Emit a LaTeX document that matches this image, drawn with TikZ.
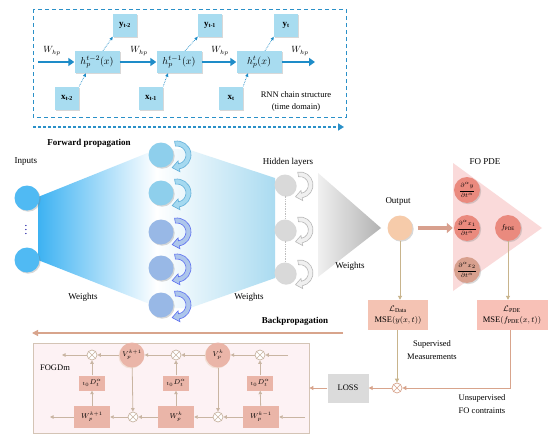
\documentclass[tikz,border=0pt]{standalone}
\usepackage{fontspec}
\setmainfont{Liberation Serif}
\usepackage{amsmath}
\usetikzlibrary{arrows.meta,shadows,calc}
\definecolor{rnnbox}{HTML}{A8DCF0}
\definecolor{rnnarrow}{HTML}{1E8CC8}
\definecolor{rnndash}{HTML}{2A90C8}
\definecolor{inblue}{HTML}{3DB2F2}
\definecolor{hidblue}{HTML}{8ECFEC}
\definecolor{hidlav}{HTML}{98B8E6}
\definecolor{peach}{HTML}{F6CBAA}
\definecolor{salmon}{HTML}{EA8A7E}
\definecolor{salmonb}{HTML}{D8A08E}
\definecolor{pinktri}{HTML}{FADADA}
\definecolor{tanarrow}{HTML}{C8B48C}
\definecolor{lossbox}{HTML}{F4C3B3}
\definecolor{fogbg}{HTML}{FDF2F4}
\definecolor{fogline}{HTML}{C9B5A2}
\definecolor{fogbox}{HTML}{EAB5A8}
\definecolor{backarrow}{HTML}{D8A48C}
\tikzset{
  recarrow/.pic={
    \begin{scope}[yscale=-1]
    \path[pic actions] (100:14) arc[start angle=100,end angle=-80,radius=14] -- (-80:17) -- (-111:13.5) -- (-80:6) -- (-80:9) arc[start angle=-80,end angle=100,radius=9] -- cycle;
    \end{scope}
  },
  shad/.style={drop shadow={opacity=0.3,shadow xshift=1.2pt,shadow yshift=-1.2pt}},
  hbox/.style={fill=rnnbox,shad,inner sep=0pt,minimum width=45pt,minimum height=22pt,font=\fontsize{10}{12}\selectfont},
  sbox/.style={fill=rnnbox,shad,inner sep=0pt,minimum width=24pt,minimum height=23pt,font=\fontsize{9}{10}\selectfont},
  warrow/.style={rnnarrow,line width=2.6pt,-{Triangle[length=6pt,width=8pt]}},
  dotarrow/.style={rnnarrow,densely dotted,line width=0.7pt,-{Triangle[length=3.5pt,width=3pt]}},
  lbl/.style={inner sep=1pt,font=\fontsize{9}{10}\selectfont},
  hcirc/.style={circle,shad,inner sep=0pt,minimum size=25pt},
  gcirc/.style={circle,shad,fill=gray!30,inner sep=0pt,minimum size=21pt},
  dcirc/.style={circle,shad,inner sep=0pt,minimum size=26pt,font=\fontsize{6}{7}\selectfont},
  tarrow/.style={tanarrow,line width=0.9pt,-{Triangle[length=4pt,width=4pt]}},
  larrow/.style={backarrow,line width=0.9pt,-{Triangle[length=4pt,width=4pt]}},
  farrow/.style={fogline,line width=0.8pt,-{Triangle[length=3.5pt,width=3.5pt]}},
  otimesnode/.style={circle,draw=#1,fill=white,line width=0.7pt,minimum size=10pt,inner sep=0pt,
    path picture={\draw[#1,line width=0.7pt] (path picture bounding box.north west) -- (path picture bounding box.south east) (path picture bounding box.north east) -- (path picture bounding box.south west);}},
  lbox/.style={inner sep=1pt,align=center,minimum height=30pt,font=\fontsize{8.5}{11}\selectfont},
  dbox/.style={fill=fogbox,inner sep=0pt,minimum width=26pt,minimum height=15pt,font=\fontsize{7}{8}\selectfont},
  wbox/.style={fill=fogbox,inner sep=0pt,minimum width=36pt,minimum height=22pt,font=\fontsize{7}{8}\selectfont},
  vcirc/.style={circle,fill=fogbox,drop shadow={opacity=0.35,shadow xshift=-1pt,shadow yshift=-1pt,fill=brown!50},inner sep=0pt,minimum size=25pt,font=\fontsize{7}{8}\selectfont}
}
\begin{document}
\begin{tikzpicture}[x=1pt,y=-1pt]
\useasboundingbox (0,0) rectangle (550,439);
\fill[white] (0,0) rectangle (550,439);
% ---------------- RNN chain ----------------
\draw[rnndash,line width=0.8pt,dash pattern=on 4pt off 3pt] (33,9) rectangle (346,117);
\node[hbox] (h1) at (97,62) {$h_p^{t-2}(x)$};
\node[hbox] (h2) at (179,62) {$h_p^{t-1}(x)$};
\node[hbox] (h3) at (259,62) {$h_p^{t}(x)$};
\node[sbox] (y1) at (125,25) {\textbf{y}\textsubscript{\textbf{t-2}}};
\node[sbox] (y2) at (210,25) {\textbf{y}\textsubscript{\textbf{t-1}}};
\node[sbox] (y3) at (286,25) {\textbf{y}\textsubscript{\textbf{t}}};
\node[sbox] (x1) at (67,98) {\textbf{x}\textsubscript{\textbf{t-2}}};
\node[sbox] (x2) at (151,98) {\textbf{x}\textsubscript{\textbf{t-1}}};
\node[sbox] (x3) at (231,98) {\textbf{x}\textsubscript{\textbf{t}}};
\coordinate (ws) at (38,62);
\coordinate (we) at (315,62);
\draw[warrow] (ws) -- (h1.west);
\draw[warrow] (h1.east) -- (h2.west);
\draw[warrow] (h2.east) -- (h3.west);
\draw[warrow] (h3.east) -- (we);
\node[lbl] (wl1) at (52,51) {$W_{hp}$};
\node[lbl] (wl2) at (139,51) {$W_{hp}$};
\node[lbl] (wl3) at (220,51) {$W_{hp}$};
\node[lbl] (wl4) at (300,51) {$W_{hp}$};
\foreach \i in {1,2,3}{
  \draw[dotarrow] (x\i.north east) -- ([xshift=-11pt]h\i.south);
  \draw[dotarrow] ([xshift=6pt]h\i.north) -- (y\i.south west);
}
\node[align=center,inner sep=0pt,font=\fontsize{8.5}{12}\selectfont] (rnnlbl) at (296,101) {RNN chain structure\\(time domain)};
\coordinate (fp1) at (33,127);
\coordinate (fp2) at (344,127);
\draw[rnndash,line width=1.6pt,dash pattern=on 3pt off 2pt,-{Triangle[length=6pt,width=7pt]}] (fp1) -- (fp2);
\node[font=\bfseries\fontsize{9}{10}\selectfont,inner sep=0pt] (fplbl) at (89,143) {Forward propagation};
% ---------------- network ----------------
\shade[left color=inblue,right color=hidblue!75,middle color=white] (38,197) -- (160,148) -- (190,150) -- (275,178) -- (275,278) -- (190,308) -- (160,308) -- (38,260) -- cycle;
\node[lbl] (inlbl) at (26,162) {Inputs};
\node[hcirc,fill=inblue!90] (in1) at (27,198) {};
\node[hcirc,fill=inblue!90] (in2) at (27,260) {};
\node[text=blue!60!black,font=\fontsize{11}{11}\selectfont,inner sep=0pt] (indots) at (26,227) {$\vdots$};
\foreach \y/\c/\d in {155/hidblue/rnnarrow!70, 193/hidblue/rnnarrow!70, 232/hidlav/hidlav!60!blue, 268/hidlav/hidlav!60!blue, 305/hidlav/hidlav!60!blue}{
  \pic[fill=\c!80,draw=\d,line width=0.6pt] at (177,\y) {recarrow};
}
\node[hcirc,fill=hidblue] (c1) at (161,155) {};
\node[hcirc,fill=hidblue] (c2) at (161,193) {};
\node[hcirc,fill=hidlav] (c3) at (161,232) {};
\node[hcirc,fill=hidlav] (c4) at (161,268) {};
\node[hcirc,fill=hidlav] (c5) at (161,305) {};
\node[lbl] (wt1) at (83,297) {Weights};
\node[lbl] (wt2) at (249,297) {Weights};
\node[lbl] (hidlbl) at (288,162) {Hidden layers};
% gray hidden layers
\shade[left color=gray!12,right color=gray!60] (318,173) -- (381,228) -- (318,277) -- cycle;
\foreach \y in {185,230,273}{
  \pic[fill=gray!12,draw=gray!55,line width=0.6pt,scale=0.93] at (300,\y) {recarrow};
}
\node[gcirc] (g1) at (285,185) {};
\node[gcirc] (g2) at (285,230) {};
\node[gcirc] (g3) at (285,273) {};
\draw[gray!50,densely dotted,line width=0.7pt] (g1.south) -- (g2.north);
\draw[gray!50,densely dotted,line width=0.7pt] (g2.south) -- (g3.north);
\node[lbl] (wt3) at (350,266) {Weights};
% output
\node[lbl] (outlbl) at (398,201) {Output};
\node[hcirc,fill=peach] (out) at (400,228) {};
% FO PDE
\fill[pinktri] (453,163) -- (542,228) -- (453,291) -- cycle;
\node[lbl] (folbl) at (485,162) {FO PDE};
\node[dcirc,fill=salmon] (d1) at (467,190) {$\dfrac{\partial^\alpha y}{\partial t^\alpha}$};
\node[dcirc,fill=salmon] (d2) at (467,228) {$\dfrac{\partial^\alpha x_1}{\partial t^\alpha}$};
\node[dcirc,fill=salmonb] (d3) at (467,270) {$\dfrac{\partial^\alpha x_2}{\partial t^\alpha}$};
\node[dcirc,fill=salmon,font=\fontsize{7}{8}\selectfont] (fpde) at (508,228) {$f_{\mathrm{PDE}}$};
\draw[salmonb,line width=4pt,-{Triangle[length=6pt,width=10pt]},shorten <=5pt,shorten >=1pt] (out.east) -- (d2.west);
% losses
\node[lbox,fill=lossbox,minimum width=60pt] (ldata) at (398,315) {$\mathcal{L}_{\mathrm{Data}}$\\MSE$(y(x,t))$};
\node[lbox,fill=lossbox!85!red!70,minimum width=71pt] (lpde) at (512,315) {$\mathcal{L}_{\mathrm{PDE}}$\\MSE$(f_{\mathrm{PDE}}(x,t))$};
\draw[tarrow] (out.south) -- (out.south |- ldata.north);
\draw[tarrow] (fpde.south) -- (fpde.south |- lpde.north);
\node[align=center,inner sep=0pt,font=\fontsize{8.5}{13}\selectfont] (suplbl) at (432,350) {Supervised\\Measurements};
\node[otimesnode=backarrow] (lossx) at (397,388) {};
\draw[tarrow] (ldata.south -| lossx) -- (lossx.north);
\draw[larrow] (lpde.south -| 510,0) |- (lossx.east);
\node[align=center,inner sep=0pt,font=\fontsize{8.5}{13}\selectfont] (unslbl) at (482,404) {Unsupervised\\FO contraints};
\node[fill=gray!28,minimum width=41pt,minimum height=29pt,inner sep=0pt,font=\fontsize{8.5}{10}\selectfont] (loss) at (348,388) {LOSS};
\draw[larrow] (lossx.west) -- (loss.east);
% FOGDm
\node[draw=fogline!80,fill=fogbg,line width=0.8pt,minimum width=276pt,minimum height=90pt,inner sep=0pt] (fog) at (171,388) {};
\draw[larrow] (loss.west) -- (fog.east);
\coordinate (bp1) at (343,333);
\coordinate (bp2) at (32,333);
\draw[backarrow,line width=1.2pt,-{Triangle[length=6pt,width=6pt]}] (bp1) -- (bp2);
\node[font=\bfseries\fontsize{9}{10}\selectfont,inner sep=0pt] (bplbl) at (295,321) {Backpropagation};
\node[inner sep=0pt,font=\fontsize{8.5}{10}\selectfont] (foglbl) at (55,368) {FOGDm};
% top row
\node[otimesnode=fogline] (ot1) at (92,355) {};
\node[vcirc] (v1) at (132,355) {$V_p^{k+1}$};
\node[otimesnode=fogline] (ot2) at (176,355) {};
\node[vcirc] (v2) at (218,355) {$V_p^{k}$};
\node[otimesnode=fogline] (ot3) at (260,355) {};
\coordinate (tin) at (288,355);
\coordinate (tout) at (62,355);
% D boxes
\node[dbox] (D1) at (92,383) {${}_{t_0}D_t^{\alpha}$};
\node[dbox] (D2) at (176,383) {${}_{t_0}D_t^{\alpha}$};
\node[dbox] (D3) at (260,383) {${}_{t_0}D_t^{\alpha}$};
% bottom row
\node[wbox] (W1) at (92,417) {$W_p^{k+1}$};
\node[otimesnode=fogline] (ob1) at (133,417) {};
\node[wbox] (W2) at (176,417) {$W_p^{k}$};
\node[otimesnode=fogline] (ob2) at (218,417) {};
\node[wbox] (W3) at (261,417) {$W_p^{k-1}$};
\coordinate (bin) at (305,417);
\coordinate (bout) at (50,417);
\draw[farrow] (tin) -- (ot3);
\draw[farrow] (ot3) -- (v2);
\draw[farrow] (v2) -- (ot2);
\draw[farrow] (ot2) -- (v1);
\draw[farrow] (v1) -- (ot1);
\draw[farrow] (ot1) -- (tout);
\draw[farrow] (bin) -- (W3);
\draw[farrow] (W3) -- (ob2);
\draw[farrow] (ob2) -- (W2);
\draw[farrow] (W2) -- (ob1);
\draw[farrow] (ob1) -- (W1);
\draw[farrow] (W1) -- (bout);
\foreach \i in {1,2,3}{
  \draw[farrow] (W\i) -- (D\i);
  \draw[farrow] (D\i) -- (ot\i);
}
\draw[farrow] (v1) -- (ob1);
\draw[farrow] (v2) -- (ob2);
\end{tikzpicture}
\end{document}
